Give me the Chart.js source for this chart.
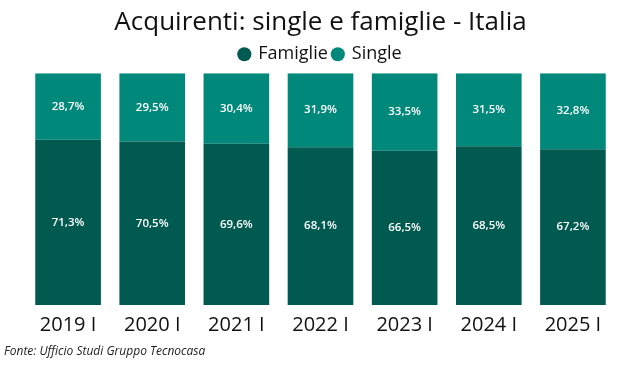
<!DOCTYPE html>
<html>
<head>
<meta charset="utf-8">
<script src="https://cdn.jsdelivr.net/npm/chart.js@4"></script>
<style>
  html, body { margin: 0; padding: 0; background: #fff; }
  #wrap { position: relative; width: 643px; height: 367px; }
  #fonte { position: absolute; left: 4px; top: 342px; font: italic 12px "Open Sans", sans-serif; color: #222; }
</style>
</head>
<body>
<div id="wrap">
  <canvas id="chart" width="643" height="367"></canvas>
  <div id="fonte">Fonte: Ufficio Studi Gruppo Tecnocasa</div>
</div>
<script>
const years = ["2019 I", "2020 I", "2021 I", "2022 I", "2023 I", "2024 I", "2025 I"];
const famiglie = [71.3, 70.5, 69.6, 68.1, 66.5, 68.5, 67.2];
const single = [28.7, 29.5, 30.4, 31.9, 33.5, 31.5, 32.8];

// etichette percentuali dentro le barre
const barLabels = {
    id: "barLabels",
    afterDatasetsDraw(chart) {
        const ctx = chart.ctx;
        ctx.save();
        ctx.fillStyle = "#fff";
        ctx.font = "600 11.5px 'Open Sans', sans-serif";
        ctx.textAlign = "center";
        ctx.textBaseline = "middle";
        chart.data.datasets.forEach((ds, i) => {
            chart.getDatasetMeta(i).data.forEach((bar, j) => {
                const mid = (bar.y + bar.base) / 2;
                ctx.fillText(ds.data[j].toFixed(1).replace(".", ",") + "%", bar.x, mid);
            });
        });
        ctx.restore();
    }
};

new Chart(document.getElementById("chart"), {
    type: "bar",
    data: {
        labels: years,
        datasets: [
            {
                label: "Famiglie",
                data: famiglie,
                backgroundColor: "#005a50",
                borderWidth: 0
            },
            {
                label: "Single",
                data: single,
                backgroundColor: "#00897b",
                borderWidth: 0
            }
        ]
    },
    options: {
        responsive: false,
        animation: false,
        layout: { padding: { left: 26, right: 28, top: 7, bottom: 30 } },
        datasets: { bar: { barPercentage: 0.78, categoryPercentage: 1 } },
        plugins: {
            title: {
                display: true,
                text: "Acquirenti: single e famiglie - Italia",
                color: "#111",
                font: { family: "'Open Sans', sans-serif", size: 26, weight: "normal" },
                padding: { top: 0, bottom: 2 }
            },
            legend: {
                display: true,
                labels: {
                    usePointStyle: true,
                    pointStyle: "circle",
                    boxWidth: 10,
                    boxHeight: 10,
                    padding: 5,
                    color: "#111",
                    font: { family: "'Open Sans', sans-serif", size: 18 }
                }
            },
            tooltip: { enabled: false }
        },
        scales: {
            x: {
                stacked: true,
                grid: { display: false },
                border: { display: false },
                ticks: {
                    color: "#111",
                    padding: 0,
                    font: { family: "'Open Sans', sans-serif", size: 20 }
                }
            },
            y: {
                stacked: true,
                display: false,
                min: 0,
                max: 100
            }
        }
    },
    plugins: [barLabels]
});
</script>
</body>
</html>
